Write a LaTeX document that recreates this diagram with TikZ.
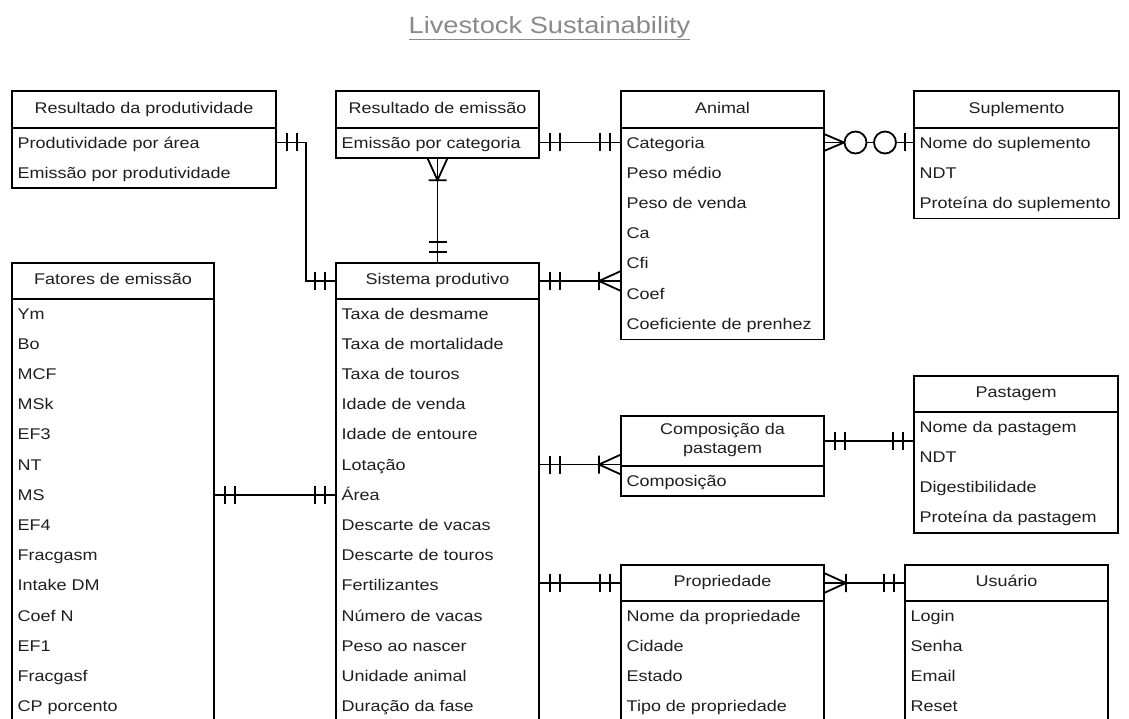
\documentclass[tikz,border=0pt]{standalone}
\usepackage{fontspec}
\setmainfont{Liberation Sans}[FakeStretch=1.16]
\usetikzlibrary{calc}
\definecolor{ink}{HTML}{1F1F1F}
\definecolor{titlegray}{HTML}{8A8A8A}

\tikzset{
  hdr/.style={draw=black, line width=1.8pt, rectangle, inner sep=0pt, outer sep=0pt, anchor=north west,
    font=\fontsize{15.5}{19}\selectfont, text=ink, align=center, execute at begin node=\strut},
  bodybox/.style={draw=black, line width=1.8pt, rectangle, inner sep=0pt, outer sep=0pt, anchor=north west},
  attr/.style={inner sep=0pt, anchor=base west, font=\fontsize{15.5}{19}\selectfont, text=ink},
  link/.style={line width=1.8pt, draw=black},
  % crow's foot end markers, drawn from the box edge outwards along +x
  mandone/.pic={\draw[link] (11,-9) -- (11,9) (21,-9) -- (21,9);},
  onemany/.pic={\draw[link] (0,10) -- (22,0) -- (0,-10) (22,-9) -- (22,9);},
  zeromany/.pic={\draw[link] (0,8.5) -- (20,0) -- (0,-8.5); \draw[link, fill=white] (31.5,0) circle (11);},
  zeroone/.pic={\draw[link] (9,-9) -- (9,9); \draw[link, fill=white] (29,0) circle (11);},
}

% name, left x, top y, width, header height, header text, attribute list
\newcommand{\erentity}[7]{%
  \node[hdr, minimum width=#4, minimum height=#5] (#1) at (#2,-#3) {#6};
  \foreach \r [count=\i] in {#7} {\xdef\nrows{\i}}%
  \node[bodybox, minimum width=#4, minimum height=\nrows*30.2] (#1-b) at (#1.south west) {};
  \foreach \r [count=\i] in {#7} {%
    \coordinate (#1-\i) at ($(#1-b.north west)+(0,{-14.5-30.2*(\i-1)})$);
    \node[attr] (#1-\i-t) at ($(#1-\i)+(5.5,-5.6)$) {\r};
  }%
}

\begin{document}
\begin{tikzpicture}[x=1pt, y=1pt]
\useasboundingbox (0,0) rectangle (1129,-719);
\clip (0,0) rectangle (1129,-719);

\node[font=\fontsize{23.5}{28}\selectfont, text=titlegray] (title) at (549.5,-28)
  {\underline{Livestock Sustainability}};

\erentity{rdp}{12}{91}{264}{37}{Resultado da produtividade}
  {Produtividade por área, Emissão por produtividade}
\erentity{rde}{336}{91}{203}{37}{Resultado de emissão}
  {Emissão por categoria}
\erentity{ani}{621}{91}{203}{37}{Animal}
  {Categoria, Peso médio, Peso de venda, Ca, Cfi, Coef, Coeficiente de prenhez}
\erentity{sup}{914}{91}{205}{37}{Suplemento}
  {Nome do suplemento, NDT, Proteína do suplemento}
\erentity{fat}{12}{263}{202}{36}{Fatores de emissão}
  {Ym, Bo, MCF, MSk, EF3, NT, MS, EF4, Fracgasm, Intake DM, Coef N, EF1, Fracgasf, CP porcento}
\erentity{sis}{336}{263}{203}{36}{Sistema produtivo}
  {Taxa de desmame, Taxa de mortalidade, Taxa de touros, Idade de venda, Idade de entoure,
   Lotação, Área, Descarte de vacas, Descarte de touros, Fertilizantes, Número de vacas,
   Peso ao nascer, Unidade animal, Duração da fase}
\erentity{past}{914}{376}{204}{36}{Pastagem}
  {Nome da pastagem, NDT, Digestibilidade, Proteína da pastagem}
\erentity{comp}{621}{416}{203}{50}{Composição da\\pastagem}
  {Composição}
\erentity{prop}{621}{565}{203}{36}{Propriedade}
  {Nome da propriedade, Cidade, Estado, Tipo de propriedade}
\erentity{usu}{905}{565}{203}{36}{Usuário}
  {Login, Senha, Email, Reset}

% Resultado da produtividade -- Sistema produtivo
\draw[link] (rdp-b.east |- rdp-1) -| ($(rdp.east)!.5!(sis.west)$) |- (sis.west);
\pic at (rdp-b.east |- rdp-1) {mandone};
\pic[rotate=180] at (sis.west) {mandone};

% Resultado de emissão -- Sistema produtivo
\draw[link] (rde-b.south) -- (sis.north);
\pic[rotate=-90] at (rde-b.south) {onemany};
\pic[rotate=90] at (sis.north) {mandone};

% Resultado de emissão -- Animal
\draw[link] (rde-b.east |- rde-1) -- (ani-b.west |- ani-1);
\pic at (rde-b.east |- rde-1) {mandone};
\pic[rotate=180] at (ani-b.west |- ani-1) {mandone};

% Animal -- Suplemento
\draw[link] (ani-b.east |- ani-1) -- (sup-b.west |- sup-1);
\pic at (ani-b.east |- ani-1) {zeromany};
\pic[rotate=180] at (sup-b.west |- sup-1) {zeroone};

% Sistema produtivo -- Animal
\draw[link] (sis.east) -- (sis.east -| ani-b.west);
\pic at (sis.east) {mandone};
\pic[rotate=180] at (sis.east -| ani-b.west) {onemany};

% Sistema produtivo -- Composição da pastagem
\draw[link] (sis-b.east |- sis-6) -- (comp.west |- sis-6);
\pic at (sis-b.east |- sis-6) {mandone};
\pic[rotate=180] at (comp.west |- sis-6) {onemany};

% Composição da pastagem -- Pastagem
\draw[link] (comp.east) -- (comp.east -| past-b.west);
\pic at (comp.east) {mandone};
\pic[rotate=180] at (comp.east -| past-b.west) {mandone};

% Fatores de emissão -- Sistema produtivo
\draw[link] (fat-b.east |- fat-7) -- (sis-b.west |- sis-7);
\pic at (fat-b.east |- fat-7) {mandone};
\pic[rotate=180] at (sis-b.west |- sis-7) {mandone};

% Sistema produtivo -- Propriedade
\draw[link] (prop.west -| sis-b.east) -- (prop.west);
\pic at (prop.west -| sis-b.east) {mandone};
\pic[rotate=180] at (prop.west) {mandone};

% Propriedade -- Usuário
\draw[link] (prop.east) -- (usu.west);
\pic at (prop.east) {onemany};
\pic[rotate=180] at (usu.west) {mandone};
\end{tikzpicture}
\end{document}
